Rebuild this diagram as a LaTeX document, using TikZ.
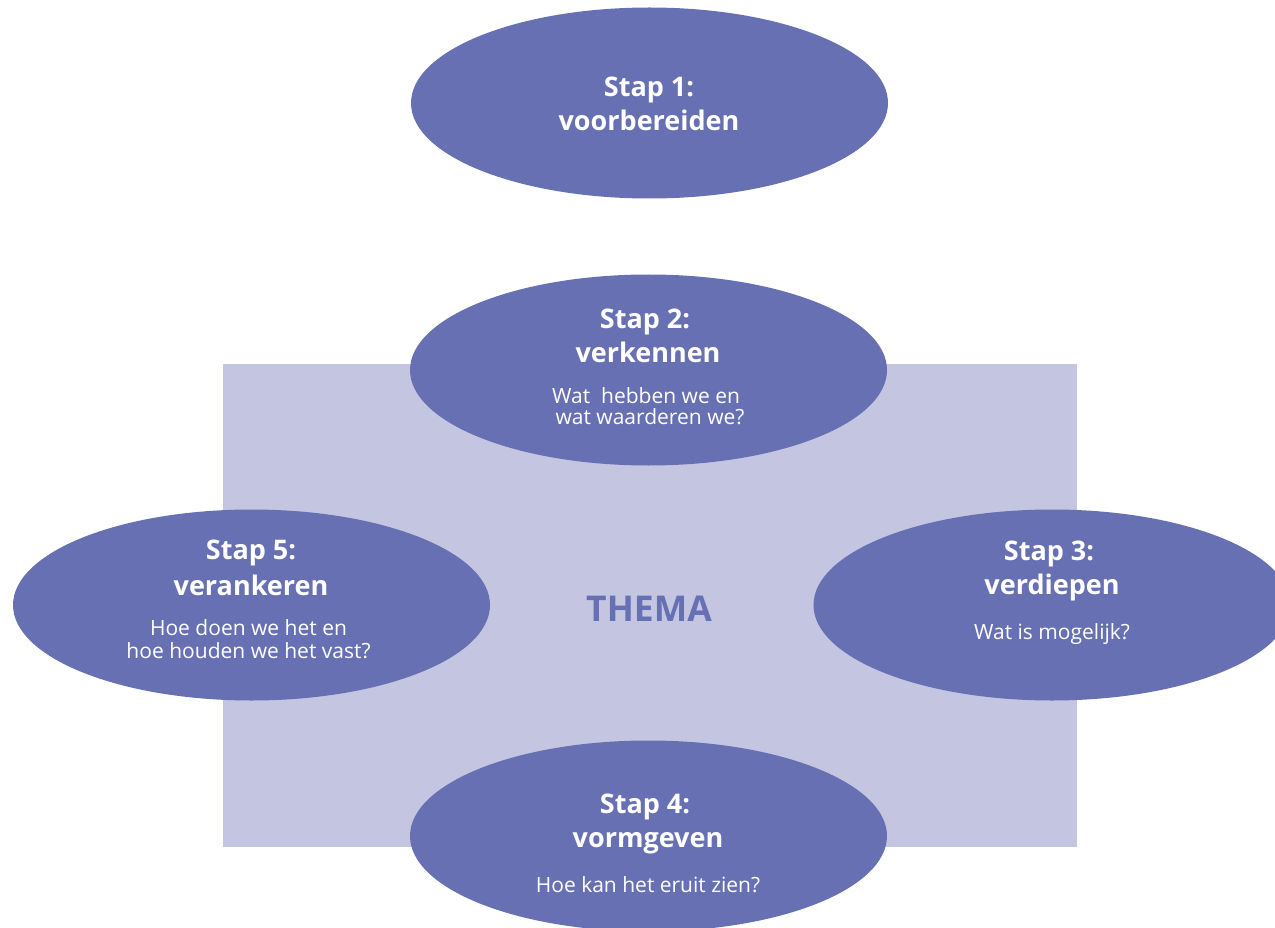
\documentclass[tikz,border=0pt]{standalone}
\usepackage{fontspec}
\setmainfont{Open Sans}
\usetikzlibrary{shapes.geometric}
\definecolor{ell}{HTML}{6870B4}
\definecolor{rectc}{HTML}{C3C5E1}
\tikzset{
  stapell/.style={ellipse, fill=ell, inner sep=0pt, minimum width=477pt, minimum height=191pt},
  head/.style={text=white, font=\fontsize{27}{27}\selectfont\bfseries, inner sep=0pt, anchor=base},
  sub/.style={text=white, font=\fontsize{21}{21}\selectfont, inner sep=0pt, anchor=base},
}
\begin{document}
\begin{tikzpicture}[x=1pt,y=-1pt]
\useasboundingbox (0,0) rectangle (1275,928);
\clip (0,0) rectangle (1275,928);
\node[fill=rectc, inner sep=0pt, minimum width=854pt, minimum height=483pt] (thema) at (650,605.5) {};
\node[text=ell, font=\fontsize{35.5}{35.5}\selectfont\bfseries, inner sep=0pt, anchor=base] (themat) at (649,621) {THEMA};
\node[stapell] (s1) at (649.5,103) {};
\node[stapell] (s2) at (648.5,370) {};
\node[stapell] (s3) at (1052,605) {};
\node[stapell] (s4) at (648.5,836) {};
\node[stapell] (s5) at (251.5,605) {};
% Stap 1
\node[head] (s1a) at (649,97) {Stap 1:};
\node[head] (s1b) at (649,131) {voorbereiden};
% Stap 2
\node[head] (s2a) at (645,328) {Stap 2:};
\node[head] (s2b) at (648,362) {verkennen};
\node[sub] (s2c) at (646,403) {Wat\ \ hebben we en};
\node[sub] (s2d) at (650,424) {wat waarderen we?};
% Stap 3
\node[head] (s3a) at (1049,560) {Stap 3:};
\node[head] (s3b) at (1052,594) {verdiepen};
\node[sub] (s3c) at (1052,639) {Wat is mogelijk?};
% Stap 4
\node[head] (s4a) at (645,813) {Stap 4:};
\node[head] (s4b) at (648,847) {vormgeven};
\node[sub] (s4c) at (648,892) {Hoe kan het eruit zien?};
% Stap 5
\node[head] (s5a) at (251,559) {Stap 5:};
\node[head] (s5b) at (251,595) {verankeren};
\node[sub] (s5c) at (248.5,635) {Hoe doen we het en};
\node[sub] (s5d) at (248.5,658) {hoe houden we het vast?};
\end{tikzpicture}
\end{document}
